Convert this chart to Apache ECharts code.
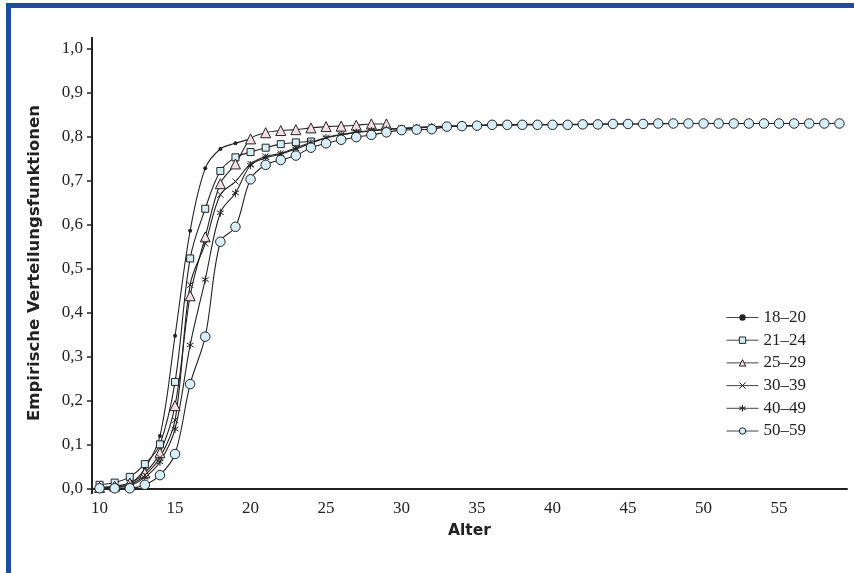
<!DOCTYPE html>
<html>
<head>
<meta charset="utf-8">
<script src="https://cdn.jsdelivr.net/npm/echarts@6/dist/echarts.min.js"></script>
<style>
html,body{margin:0;padding:0;background:#fff;}
#c{width:854px;height:573px;}
</style>
</head>
<body>
<div id="c"></div>
<script>
// Categories (age in years)
const ages = ['10','11','12','13','14','15','16','17','18','19','20','21','22','23','24','25','26','27','28','29','30','31','32','33','34','35','36','37','38','39','40','41','42','43','44','45','46','47','48','49','50','51','52','53','54','55','56','57','58','59'];
const seriesNames = ['18–20','21–24','25–29','30–39','40–49','50–59'];
// Empirical distribution functions, one value per age starting at 10
const s18_20 = [0.000,0.003,0.010,0.045,0.119,0.347,0.586,0.728,0.772,0.785,0.795];
const s21_24 = [0.008,0.013,0.026,0.055,0.100,0.242,0.523,0.636,0.722,0.753,0.765,0.775,0.783,0.787,0.789];
const s25_29 = [0.002,0.005,0.012,0.035,0.081,0.188,0.438,0.572,0.693,0.738,0.795,0.809,0.814,0.816,0.820,0.823,0.824,0.826,0.829,0.829];
const s30_39 = [0.000,0.003,0.008,0.030,0.070,0.155,0.463,0.557,0.668,0.698,0.738,0.755,0.762,0.775,0.787,0.798,0.805,0.810,0.814,0.817,0.819,0.821,0.823,0.824,0.825,0.826,0.827,0.827,0.828,0.828];
const s40_49 = [0.000,0.002,0.006,0.025,0.060,0.135,0.326,0.475,0.627,0.672,0.735,0.752,0.760,0.772,0.785,0.797,0.804,0.809,0.813,0.816,0.818,0.820,0.822,0.823,0.824,0.825,0.826,0.826,0.827,0.827,0.828,0.828,0.828,0.829,0.829,0.829,0.829,0.829,0.830,0.830];
const s50_59 = [0.000,0.000,0.000,0.008,0.030,0.078,0.237,0.345,0.561,0.595,0.703,0.736,0.747,0.757,0.775,0.785,0.793,0.799,0.804,0.810,0.815,0.816,0.817,0.823,0.824,0.825,0.827,0.827,0.827,0.827,0.827,0.827,0.828,0.828,0.829,0.829,0.829,0.830,0.830,0.830,0.830,0.830,0.830,0.830,0.830,0.830,0.830,0.830,0.830,0.830];
// Y axis ticks
const yTicks = [0,0.1,0.2,0.3,0.4,0.5,0.6,0.7,0.8,0.9,1.0];
const yTickLabels = ['0,0','0,1','0,2','0,3','0,4','0,5','0,6','0,7','0,8','0,9','1,0'];

const ink = '#222';
const blueFill = '#d5eef8';
const pinkFill = '#f6dde4';
const serif = '"Liberation Serif", "DejaVu Serif", serif';
const sans = '"DejaVu Sans", "Noto Sans", sans-serif';

function mk(name, data, symbol, size, fill, border) {
  return {
    name: name, type: 'line', data: data,
    smooth: 0.35,
    symbol: symbol, symbolSize: size, symbolKeepAspect: true,
    showAllSymbol: true,
    lineStyle: {color: ink, width: 1.1},
    itemStyle: {color: fill, borderColor: ink, borderWidth: border},
    emphasis: {disabled: true},
    animation: false
  };
}

const xPath = 'path://M0,0L10,10M10,0L0,10';
const starPath = 'path://M5,0L5,10M0.7,2.5L9.3,7.5M0.7,7.5L9.3,2.5';
const legendFills = [ink, blueFill, pinkFill, ink, ink, blueFill];
const legendBorders = [0, 1, 1, 1, 1, 1];

const chart = echarts.init(document.getElementById('c'), null, {renderer: 'canvas'});
chart.setOption({
  backgroundColor: '#fff',
  animation: false,
  graphic: [
    {type: 'rect', shape: {x: 6, y: 3, width: 848, height: 5}, style: {fill: '#1b4e9e'}, silent: true},
    {type: 'rect', shape: {x: 6, y: 3, width: 5, height: 570}, style: {fill: '#1b4e9e'}, silent: true},
    {type: 'line', shape: {x1: 92, y1: 488, x2: 92, y2: 494}, style: {stroke: ink, lineWidth: 2}, silent: true}
  ],
  grid: {left: 92, right: 7, top: 37.8, bottom: 84.7, containLabel: false},
  legend: {
    orient: 'vertical', left: 721, top: 304,
    itemWidth: 32, itemHeight: 8, itemGap: 5.7,
    lineStyle: {width: 1, color: '#444'},
    textStyle: {fontFamily: serif, fontSize: 17, color: ink, lineHeight: 16},
    data: seriesNames.map((n, i) => ({name: n, itemStyle: {color: legendFills[i], borderColor: ink, borderWidth: legendBorders[i]}}))
  },
  xAxis: {
    type: 'category', data: ages, boundaryGap: true,
    name: 'Alter', nameLocation: 'middle', nameGap: 35,
    nameTextStyle: {fontFamily: sans, fontWeight: 'bold', fontSize: 15.5, color: ink},
    axisLine: {lineStyle: {color: ink, width: 2}},
    axisTick: {interval: 0, length: 6, lineStyle: {color: ink, width: 1}},
    axisLabel: {interval: 4, fontFamily: serif, fontSize: 17, color: ink, margin: 12},
    splitLine: {show: false}
  },
  yAxis: {
    type: 'value', min: 0, max: 1.025,
    name: 'Empirische Verteilungsfunktionen', nameLocation: 'middle', nameGap: 49, nameRotate: 90,
    nameTextStyle: {fontFamily: sans, fontWeight: 'bold', fontSize: 16.5, color: ink},
    axisLine: {show: true, lineStyle: {color: ink, width: 2}},
    axisTick: {show: true, length: 5, customValues: yTicks, lineStyle: {color: ink, width: 1.5}},
    axisLabel: {customValues: yTicks, fontFamily: serif, fontSize: 17, color: ink, margin: 9,
      formatter: function (v) { const i = yTicks.findIndex(t => Math.abs(t - v) < 1e-6); return i >= 0 ? yTickLabels[i] : ''; }},
    splitLine: {show: false}
  },
  series: [
    mk(seriesNames[0], s18_20, 'circle', 4, ink, 0),
    mk(seriesNames[1], s21_24, 'rect', 7, blueFill, 1),
    mk(seriesNames[2], s25_29, 'triangle', 10, pinkFill, 1),
    mk(seriesNames[3], s30_39, xPath, 6, ink, 1),
    mk(seriesNames[4], s40_49, starPath, 8, ink, 1),
    mk(seriesNames[5], s50_59, 'circle', 9.5, blueFill, 1)
  ]
});
</script>
</body>
</html>
